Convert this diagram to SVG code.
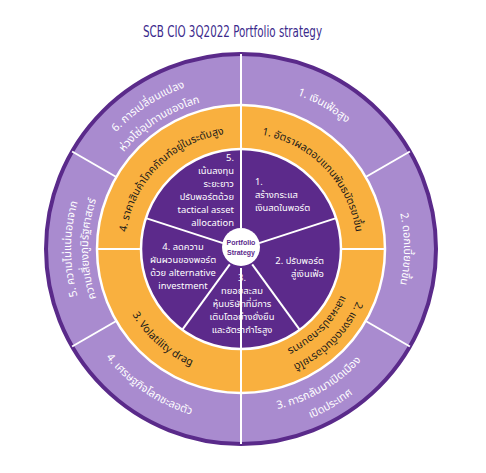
<svg xmlns="http://www.w3.org/2000/svg" width="486" height="473" viewBox="0 0 486 473">
<style>
.title{font-family:"DejaVu Sans Condensed","Liberation Sans",sans-serif;font-size:16px;fill:#3b2a8c}
.th{font-family:"Noto Sans","Noto Sans Thai","Liberation Sans",sans-serif}
.outer{font-size:11px;fill:#ffffff}
.orange{font-size:10.5px;fill:#1a1a1a}
.inner{font-size:9.4px;fill:#ffffff}
.center{font-family:"Liberation Sans",sans-serif;font-size:7px;font-weight:bold;fill:#5c2a8b}
.div{stroke:#ffffff;stroke-width:2;fill:none}
</style>
<defs>
<path id="pO1" d="M212.5,87.5 A164,164 0 0 1 395.1,192.9"/>
<path id="pO2" d="M365.9,144.2 A163,163 0 0 1 365.9,353.8"/>
<path id="pO3a" d="M212.5,410.5 A164,164 0 0 0 395.1,305.1"/>
<path id="pO3b" d="M209.2,429.2 A183,183 0 0 0 413,311.6"/>
<path id="pO4" d="M74.7,296.7 A173,173 0 0 0 259.1,421.1"/>
<path id="pO5a" d="M110.8,358.3 A170,170 0 0 1 110.8,139.7"/>
<path id="pO5b" d="M123.8,347.3 A153,153 0 0 1 123.8,150.7"/>
<path id="pO6a" d="M77.5,199 A171,171 0 0 1 261.8,79.3"/>
<path id="pO6b" d="M95.6,204.6 A152,152 0 0 1 259.5,98.1"/>
<path id="pR1" d="M243,133 A116,116 0 0 1 357,251"/>
<path id="pR2a" d="M368,249 A127,127 0 0 1 241,376"/>
<path id="pR2b" d="M351,249 A110,110 0 0 1 241,359"/>
<path id="pR3" d="M114.3,257.9 A127,127 0 0 0 249.9,375.7"/>
<path id="pR4" d="M125,249 A116,116 0 0 1 241,133"/>
</defs>

<text class="title" x="143" y="37" textLength="179" lengthAdjust="spacingAndGlyphs">SCB CIO 3Q2022 Portfolio strategy</text>

<g id="rings">
<circle cx="241" cy="249" r="195" fill="#a98bcf" stroke="#5a2a8a" stroke-width="4"/>
<circle cx="241" cy="249" r="144" fill="#f9b03f" stroke="#ffffff" stroke-width="2.5"/>
<circle cx="241" cy="249" r="100" fill="#5c2a8b" stroke="#ffffff" stroke-width="2.5"/>
</g>

<g id="connectors">
<line class="div" x1="241" y1="228" x2="241" y2="54"/>
<line class="div" x1="241" y1="268" x2="241" y2="444"/>
<line class="div" x1="365.7" y1="177" x2="409.9" y2="151.5"/>
<line class="div" x1="365.7" y1="321" x2="409.9" y2="346.5"/>
<line class="div" x1="116.3" y1="321" x2="72.1" y2="346.5"/>
<line class="div" x1="116.3" y1="177" x2="72.1" y2="151.5"/>
<line class="div" x1="341" y1="249" x2="385" y2="249"/>
<line class="div" x1="141" y1="249" x2="97" y2="249"/>
<line class="div" x1="259.1" y1="243.1" x2="336.1" y2="218.1"/>
<line class="div" x1="252.2" y1="264.4" x2="299.8" y2="329.9"/>
<line class="div" x1="229.8" y1="264.4" x2="182.2" y2="329.9"/>
<line class="div" x1="222.9" y1="243.1" x2="145.9" y2="218.1"/>
</g>

<g id="outer-1"><text class="th outer" text-anchor="middle"><textPath href="#pO1" startOffset="50%">1. เงินเฟ้อสูง</textPath></text></g>
<g id="outer-2"><text class="th outer" text-anchor="middle"><textPath href="#pO2" startOffset="50%">2. ดอกเบี้ยขาขึ้น</textPath></text></g>
<g id="outer-3"><text class="th outer" text-anchor="middle"><textPath href="#pO3a" startOffset="50%">3. การกลับมาเปิดเมือง</textPath></text><text class="th outer" text-anchor="middle"><textPath href="#pO3b" startOffset="50%">เปิดประเทศ</textPath></text></g>
<g id="outer-4"><text class="th outer" text-anchor="middle"><textPath href="#pO4" startOffset="50%">4. เศรษฐกิจโลกชะลอตัว</textPath></text></g>
<g id="outer-5"><text class="th outer" text-anchor="middle"><textPath href="#pO5a" startOffset="50%">5. ความไม่แน่นอนจาก</textPath></text><text class="th outer" text-anchor="middle"><textPath href="#pO5b" startOffset="50%">ความเสี่ยงภูมิรัฐศาสตร์</textPath></text></g>
<g id="outer-6"><text class="th outer" text-anchor="middle"><textPath href="#pO6a" startOffset="50%">6. การเปลี่ยนแปลง</textPath></text><text class="th outer" text-anchor="middle"><textPath href="#pO6b" startOffset="50%">ห่วงโซ่อุปทานของโลก</textPath></text></g>

<g id="ring-1"><text class="th orange" text-anchor="middle"><textPath href="#pR1" startOffset="50%">1. อัตราผลตอบแทนพันธบัตรขาขึ้น</textPath></text></g>
<g id="ring-2"><text class="th orange" text-anchor="middle"><textPath href="#pR2a" startOffset="50%">2. แรงกดดันต่อรายได้</textPath></text><text class="th orange" text-anchor="middle"><textPath href="#pR2b" startOffset="50%">และผลประกอบการ</textPath></text></g>
<g id="ring-3"><text class="th orange" text-anchor="middle"><textPath href="#pR3" startOffset="50%">3. Volatility drag</textPath></text></g>
<g id="ring-4"><text class="th orange" text-anchor="middle"><textPath href="#pR4" startOffset="50%">4. ราคาสินค้าโภคภัณฑ์อยู่ในระดับสูง</textPath></text></g>

<g id="inner-1"><text class="th inner" x="255"><tspan x="255" y="185">1.</tspan><tspan x="255" y="198">สร้างกระแส</tspan><tspan x="255" y="211">เงินสดในพอร์ต</tspan></text></g>
<g id="inner-2"><text class="th inner" text-anchor="end"><tspan x="324" y="264">2. ปรับพอร์ต</tspan><tspan x="324" y="277">สู่เงินเฟ้อ</tspan></text></g>
<g id="inner-3"><text class="th inner" text-anchor="middle"><tspan x="242" y="281">3.</tspan><tspan x="242" y="294">ทยอยสะสม</tspan><tspan x="242" y="307">หุ้นบริษัทที่มีการ</tspan><tspan x="242" y="320">เติบโตอย่างยั่งยืน</tspan><tspan x="242" y="333">และอัตรากำไรสูง</tspan></text></g>
<g id="inner-4"><text class="th inner" text-anchor="middle"><tspan x="183" y="249.5">4. ลดความ</tspan><tspan x="183" y="262.5">ผันผวนของพอร์ต</tspan><tspan x="183" y="275.5">ด้วย alternative</tspan><tspan x="183" y="288.5">investment</tspan></text></g>
<g id="inner-5"><text class="th inner" text-anchor="end"><tspan x="234" y="161">5.</tspan><tspan x="234" y="174">เน้นลงทุน</tspan><tspan x="234" y="187">ระยะยาว</tspan><tspan x="234" y="200">ปรับพอร์ตด้วย</tspan><tspan x="234" y="213">tactical asset</tspan><tspan x="234" y="226">allocation</tspan></text></g>

<g id="center"><circle cx="241" cy="247" r="19" fill="#ffffff"/><text class="center" text-anchor="middle"><tspan x="241" y="245">Portfolio</tspan><tspan x="241" y="255">Strategy</tspan></text></g>
</svg>
